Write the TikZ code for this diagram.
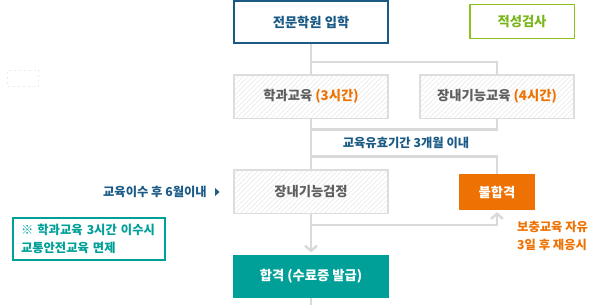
\documentclass[tikz,border=0pt]{standalone}
\usepackage{fontspec}
\setmainfont{Noto Sans CJK KR}
\usepackage{xcolor}
\usetikzlibrary{
    arrows.meta,
    patterns.meta
}

\definecolor{navy}{HTML}{1B5A85}
\definecolor{leaf}{HTML}{8DC21F}
\definecolor{leaftext}{HTML}{7AB51D}
\definecolor{amber}{HTML}{EE7203}
\definecolor{sea}{HTML}{00A099}
\definecolor{wire}{HTML}{D9D9D9}
\definecolor{rim}{HTML}{DDDDDD}
\definecolor{hatch}{HTML}{EDEDED}
\definecolor{ink}{HTML}{5E5E5E}

\begin{document}
\begin{tikzpicture}[
    x=1pt, y=-1pt,
    font=\bfseries\fontsize{13.3}{16}\selectfont,
    box/.style={
        rectangle,
        inner sep=0pt,
        align=center,
        minimum width=154pt,
        minimum height=43.5pt
    },
    course/.style={
        box,
        draw=rim,
        line width=1.5pt,
        pattern={Lines[angle=45, distance=3.5pt, line width=0.8pt]},
        pattern color=hatch,
        text=ink
    },
    link/.style={
        draw=wire,
        line width=2.5pt
    },
    arrow/.style={
        link,
        -{Straight Barb[length=5pt, width=12pt]},
        shorten >=2pt
    },
    note/.style={
        font=\bfseries\fontsize{12.3}{18}\selectfont,
        inner sep=0pt
    }
]
\useasboundingbox (0,0) rectangle (609,305);

% =========================================================
% Entry and aptitude test
% =========================================================
\node[box, draw=navy, line width=2pt, text=navy,
    minimum width=154pt, minimum height=42pt] (entry) at (311,22)
{전문학원 입학};

\node[box, draw=leaf, line width=1.5pt, text=leaftext,
    minimum width=104.5pt, minimum height=34pt] (aptitude) at (522,21.75)
{적성검사};

% =========================================================
% Training courses
% =========================================================
\node[course] (theory) at (311,96.5)
{학과교육 \textcolor{amber}{(3시간)}};

\node[course] (yard) at (497,96.5)
{장내기능교육 \textcolor{amber}{(4시간)}};

\node[note, text=navy] (valid) at (406,143)
{교육유효기간 3개월 이내};

% =========================================================
% Driving test and results
% =========================================================
\node[course] (test) at (311,191.5)
{장내기능검정};

\node[note, text=navy, anchor=east] (deadline) at (207,192)
{교육이수 후 6월이내};
\fill[navy] (215,188) -- (219.5,192) -- (215,196) -- cycle;

\node[box, fill=amber, text=white,
    minimum width=76pt, minimum height=36pt] (fail) at (497,192)
{불합격};

\node[note, text=amber, align=left, anchor=west] (retry) at (517,236)
{보충교육 자유\\3일 후 재응시};

\node[box, fill=sea, text=white,
    minimum width=156pt, minimum height=43pt] (pass) at (311,276)
{합격 (수료증 발급)};

\node[note, draw=sea, line width=2pt, text=sea, align=left,
    text width=136pt, inner xsep=8pt,
    minimum width=152pt, minimum height=42pt] (exempt) at (89,239)
{※ 학과교육 3시간 이수시\\교통안전교육 면제};

\node[draw=rim!60, line width=1pt, dash pattern=on 2pt off 3pt,
    minimum width=31pt, minimum height=16pt] (blank) at (23,78) {};

\coordinate (exit) at (311,305);

% =========================================================
% Connectors
% =========================================================
\draw[link] (entry) -- (theory);
\draw[link] ([yshift=-18pt]entry.south) -| (yard);

\draw[link] (theory) -- (test);
\draw[link] (yard) |- ([yshift=-11pt]theory.south);
\draw[link] ([yshift=-38pt]theory.south) -| (fail);

\draw[arrow] (test) -- (pass);
\draw[arrow] ([yshift=-11pt]test.south) -| (fail);
\draw[link] (pass) -- (exit);

\end{tikzpicture}
\end{document}
